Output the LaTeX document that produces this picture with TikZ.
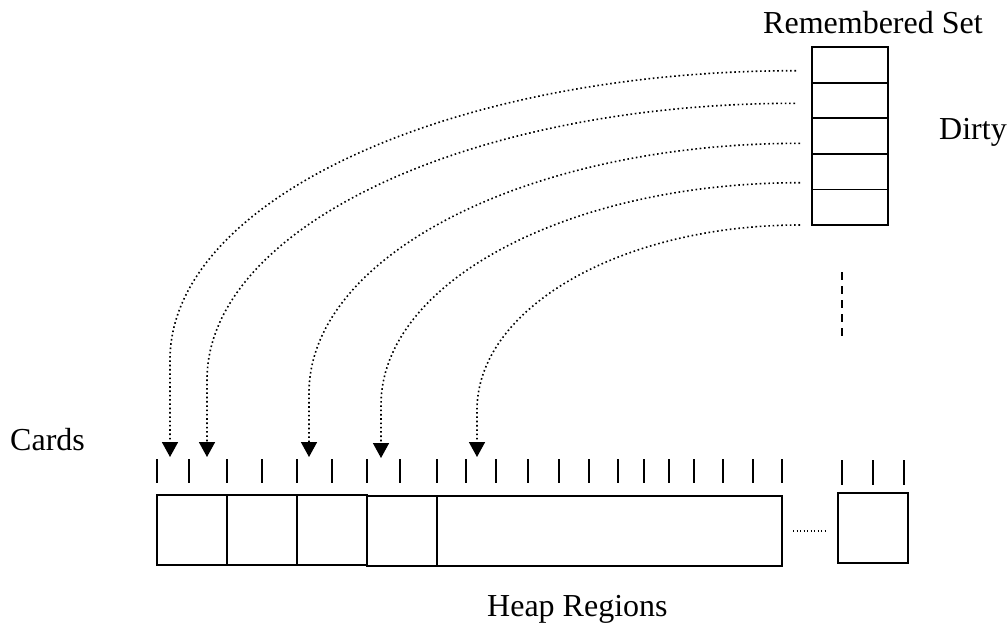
\documentclass[tikz,border=0pt]{standalone}
\usepackage{fontspec}
\setmainfont{Liberation Serif}
\usetikzlibrary{arrows.meta}

\tikzset{
  lbl/.style={inner sep=0pt, anchor=base west, font=\fontsize{32}{38}\selectfont},
  cell/.style={draw, line width=1.8pt, minimum width=76pt, minimum height=35.6pt, inner sep=0pt, outer sep=0pt},
  region/.style={draw, line width=1.7pt, inner sep=0pt, outer sep=0pt},
  tick/.style={line width=1.6pt},
  link/.style={line width=1.6pt, dash pattern=on 1.6pt off 2.7pt,
               -{Triangle[width=16pt,length=15pt]}},
  gap/.style={line width=1.1pt, dash pattern=on 1.1pt off 2.4pt},
  more/.style={line width=1.6pt, dash pattern=on 7.7pt off 6.3pt}
}

\begin{document}
\begin{tikzpicture}[x=1pt,y=-1pt]
\useasboundingbox (0,0) rectangle (1008,625);

% labels
\node[lbl] (rslabel) at (763,33) {Remembered Set};
\node[lbl] (dirty) at (939,139) {Dirty};
\node[lbl] (cards) at (10,450) {Cards};
\node[lbl] (heaplabel) at (487,616) {Heap Regions};

% remembered set column
\node[cell] (rs1) at (850,64.8) {};
\node[cell, anchor=north] (rs2) at (rs1.south) {};
\node[cell, anchor=north] (rs3) at (rs2.south) {};
\node[cell, anchor=north] (rs4) at (rs3.south) {};
\node[cell, anchor=north] (rs5) at (rs4.south) {};

% continuation of the remembered set
\coordinate (m1) at (842,272);
\coordinate (m2) at (842,336);
\draw[more] (m1) -- (m2);

% heap regions
\node[region, minimum width=70pt, minimum height=70pt, anchor=north west] (h1) at (157,495) {};
\node[region, minimum width=70pt, minimum height=70pt, anchor=north west] (h2) at (227,495) {};
\node[region, minimum width=70pt, minimum height=70pt, anchor=north west] (h3) at (297,495) {};
\node[region, minimum width=70pt, minimum height=70pt, anchor=north west] (h4) at (367,496) {};
\node[region, minimum width=345pt, minimum height=70pt, anchor=north west] (h5) at (437,496) {};
\node[region, minimum width=70pt, minimum height=70pt, anchor=north west] (h6) at (838,493) {};
\coordinate (g1) at (793,531);
\coordinate (g2) at (825,531);
\draw[gap] (g1) -- (g2);

% card boundaries
\foreach \x in {157,189,227,262,297,332,367,400,437,466,496,528,559,589,618,644,669,694,723,753,782}
  \draw[tick] (\x,459) -- (\x,483);
\foreach \x in {842,873,904}
  \draw[tick] (\x,460) -- (\x,485);

% remembered set entries pointing to dirty cards
\coordinate (s1) at (796,70.7);
\coordinate (s2) at (795,103.3);
\coordinate (s3) at (800,143.3);
\coordinate (s4) at (800,182.7);
\coordinate (s5) at (800,225);
\coordinate (t1) at (170,457);
\coordinate (t2) at (207,457);
\coordinate (t3) at (309,457);
\coordinate (t4) at (381,458);
\coordinate (t5) at (477,457);

\draw[link] (s1) .. controls (450.3,70.7) and (170,200.2) .. (170,360) -- (t1);
\draw[link] (s2) .. controls (470.2,103.3) and (207,227.2) .. (207,380) -- (t2);
\draw[link] (s3) .. controls (528.8,143.3) and (309,255.1) .. (309,393) -- (t3);
\draw[link] (s4) .. controls (568.6,182.7) and (381,282.2) .. (381,405) -- (t4);
\draw[link] (s5) .. controls (621.6,225) and (477,307.8) .. (477,410) -- (t5);
\end{tikzpicture}
\end{document}
